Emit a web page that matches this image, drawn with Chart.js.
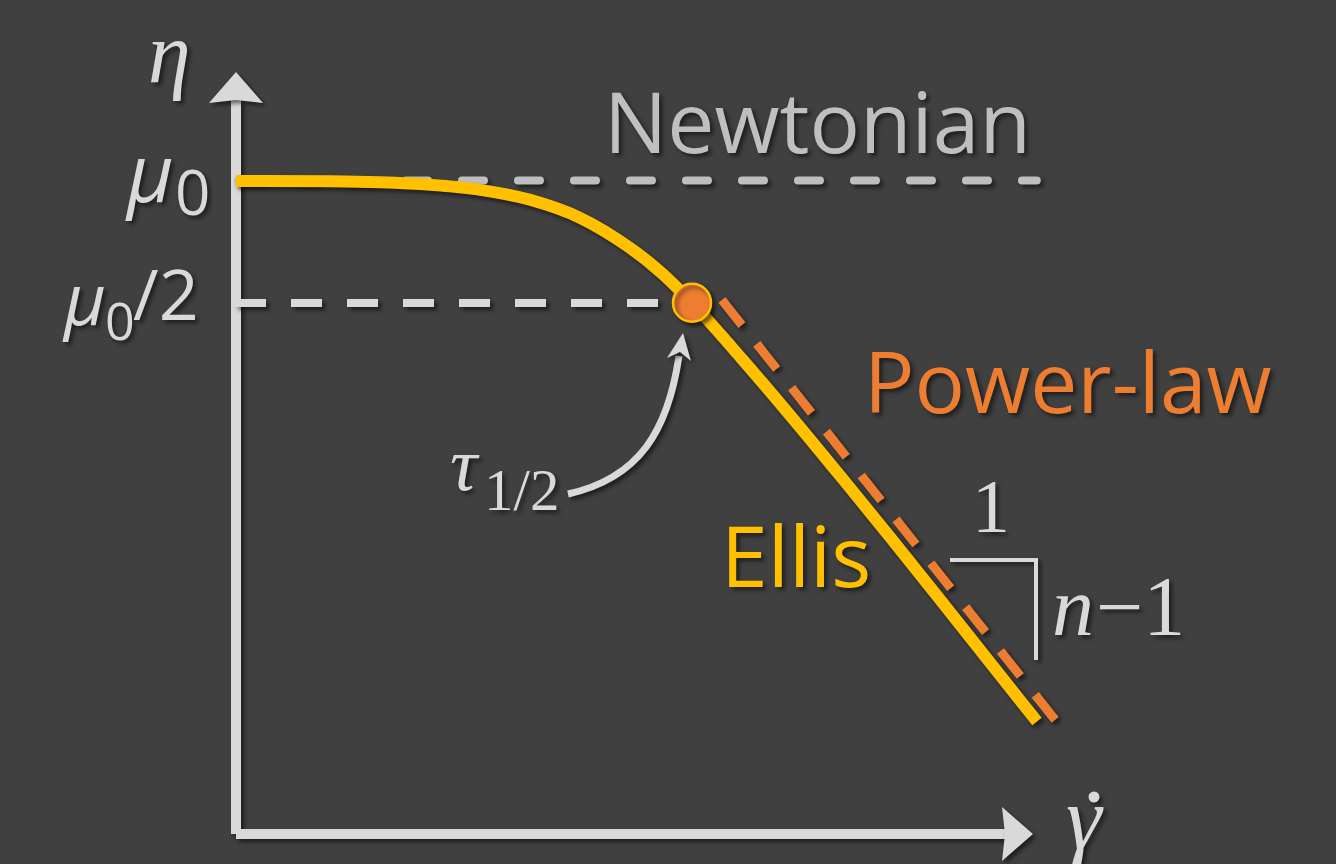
<!DOCTYPE html>
<html>
<head>
<meta charset="utf-8">
<script src="https://cdn.jsdelivr.net/npm/chart.js@4/dist/chart.umd.min.js"></script>
<style>
  html, body { margin: 0; padding: 0; background: #404040; }
  #wrap { width: 1336px; height: 864px; }
</style>
</head>
<body>
<div id="wrap"><canvas id="chart" width="1336" height="864"></canvas></div>
<script>
// 数据 (读自原图, 轴范围 0..100)
const ellisX = [0, 11.75, 18.0, 24.25, 30.5, 36.75, 43.0, 49.25, 53.375, 57.0, 63.25, 69.5, 75.75, 82.0, 88.25, 94.5, 100.125];
const ellisY = [85.92, 85.88, 85.75, 85.42, 84.76, 83.45, 81.08, 77.13, 73.66, 69.87, 62.5, 54.8, 46.84, 38.75, 30.53, 22.24, 14.8];
const powerX = [60.75, 102.6];
const powerY = [70.26, 14.74];
const newtonX = [0.25, 100.1];
const newtonY = [86, 86];
const halfX = [-0.125, 53];
const halfY = [69.87, 69.87];
const tauX = [57.0];
const tauY = [69.9];
const yTicks = [86, 69.87];   // μ0, μ0/2

const colors = {
    bg: '#404040',
    yellow: '#ffc000',
    orange: '#ed7d31',
    light: '#d9d9d9',
    grey: '#bfbfbf'
};

function pts(xs, ys) {
    return xs.map((x, i) => ({ x: x, y: ys[i] }));
}

function setShadow(ctx) {
    ctx.shadowColor = 'rgba(0,0,0,0.55)';
    ctx.shadowBlur = 4;
    ctx.shadowOffsetX = 3;
    ctx.shadowOffsetY = 3;
}

// 阴影
const shadowPlugin = {
    id: 'shadow',
    beforeDatasetDraw(chart) {
        chart.ctx.save();
        setShadow(chart.ctx);
    },
    afterDatasetDraw(chart) {
        chart.ctx.restore();
    }
};

// 坐标轴箭头
const axesPlugin = {
    id: 'axes',
    beforeDatasetsDraw(chart) {
        const ctx = chart.ctx;
        const xs = chart.scales.x, ys = chart.scales.y;
        const x0 = xs.getPixelForValue(0), y0 = ys.getPixelForValue(0);
        const yTop = ys.getPixelForValue(100) - 2;
        const xEnd = xs.getPixelForValue(100) - 3;
        ctx.save();
        setShadow(ctx);
        ctx.fillStyle = colors.light;
        // y 轴
        ctx.fillRect(x0 - 5, yTop + 28, 10, y0 - yTop - 28);
        ctx.beginPath();
        ctx.moveTo(x0, yTop);
        ctx.lineTo(x0 + 27, yTop + 31);
        ctx.lineTo(x0, yTop + 28);
        ctx.lineTo(x0 - 27, yTop + 31);
        ctx.closePath();
        ctx.fill();
        // x 轴
        ctx.fillRect(x0, y0 - 5, xEnd - x0 - 28, 10);
        ctx.beginPath();
        ctx.moveTo(xEnd, y0);
        ctx.lineTo(xEnd - 31, y0 - 27);
        ctx.lineTo(xEnd - 28, y0);
        ctx.lineTo(xEnd - 31, y0 + 27);
        ctx.closePath();
        ctx.fill();
        ctx.restore();
    }
};

// 文字标注
const labelPlugin = {
    id: 'labels',
    afterDatasetsDraw(chart) {
        const ctx = chart.ctx;
        const ys = chart.scales.y;
        const serif = '"Liberation Serif", "DejaVu Serif", serif';
        const sans = '"Open Sans", "Noto Sans", sans-serif';
        ctx.save();
        setShadow(ctx);
        ctx.textBaseline = 'alphabetic';
        ctx.textAlign = 'left';

        ctx.fillStyle = colors.grey;
        ctx.font = '84px ' + sans;
        ctx.fillText('Newtonian', 604, 153);

        ctx.fillStyle = colors.orange;
        ctx.fillText('Power-law', 864, 413);

        ctx.fillStyle = colors.yellow;
        ctx.fillText('Ellis', 721, 587);

        // 坐标轴符号
        ctx.fillStyle = colors.light;
        ctx.font = 'italic 86px ' + serif;
        ctx.fillText('η', 148, 82);
        ctx.font = 'italic 90px ' + serif;
        ctx.fillText('γ', 1066, 849);
        ctx.beginPath();
        ctx.arc(1094, 797, 5.5, 0, Math.PI * 2);
        ctx.fill();

        // y 刻度: μ0, μ0/2
        const p0 = ys.getPixelForValue(yTicks[0]);
        const p1 = ys.getPixelForValue(yTicks[1]);
        ctx.font = 'italic 80px ' + sans;
        ctx.fillText('μ', 127, p0 + 22);
        ctx.font = '62px ' + sans;
        ctx.fillText('0', 175, p0 + 35);

        ctx.font = 'italic 72px ' + sans;
        ctx.fillText('μ', 64, p1 + 22);
        ctx.font = '52px ' + sans;
        ctx.fillText('0', 105, p1 + 37);
        ctx.font = '70px ' + sans;
        ctx.fillText('/2', 133, p1 + 17);

        // τ1/2
        ctx.font = 'italic 76px ' + serif;
        ctx.fillText('τ', 450, 490);
        ctx.font = '59px ' + serif;
        ctx.fillText('1/2', 484, 510);

        // 斜率三角
        ctx.font = '76px ' + serif;
        ctx.textAlign = 'center';
        ctx.fillText('1', 991, 532);
        ctx.textAlign = 'left';
        ctx.font = 'italic 84px ' + serif;
        ctx.fillText('n', 1052, 635);
        const nw = ctx.measureText('n').width;
        ctx.font = '84px ' + serif;
        ctx.fillText('−1', 1052 + nw + 2, 635);

        ctx.strokeStyle = colors.light;
        ctx.lineWidth = 4;
        ctx.beginPath();
        ctx.moveTo(950, 560);
        ctx.lineTo(1036, 560);
        ctx.lineTo(1036, 660);
        ctx.stroke();

        // τ 箭头
        ctx.lineWidth = 7;
        ctx.lineCap = 'butt';
        ctx.beginPath();
        ctx.moveTo(568, 494);
        ctx.bezierCurveTo(640, 478, 668, 430, 679, 356);
        ctx.stroke();
        ctx.beginPath();
        ctx.moveTo(683, 333);
        ctx.lineTo(691, 361);
        ctx.lineTo(680, 352);
        ctx.lineTo(667, 358);
        ctx.closePath();
        ctx.fill();
        ctx.restore();
    }
};

document.addEventListener('DOMContentLoaded', function() {
    const ctx = document.getElementById('chart').getContext('2d');
    new Chart(ctx, {
        type: 'line',
        data: {
            datasets: [
                {
                    label: 'τ1/2',
                    data: pts(tauX, tauY),
                    showLine: false,
                    pointRadius: 19,
                    pointBackgroundColor: colors.orange,
                    pointBorderColor: colors.yellow,
                    pointBorderWidth: 2.5,
                    order: 0,
                    clip: false
                },
                {
                    label: 'Power-law',
                    data: pts(powerX, powerY),
                    borderColor: colors.orange,
                    borderWidth: 9,
                    borderDash: [32, 24],
                    borderCapStyle: 'butt',
                    pointRadius: 0,
                    order: 1,
                    clip: false
                },
                {
                    label: 'Ellis',
                    data: pts(ellisX, ellisY),
                    borderColor: colors.yellow,
                    borderWidth: 12,
                    cubicInterpolationMode: 'monotone',
                    borderCapStyle: 'butt',
                    pointRadius: 0,
                    order: 2,
                    clip: false
                },
                {
                    label: 'Newtonian',
                    data: pts(newtonX, newtonY),
                    borderColor: colors.grey,
                    borderWidth: 8,
                    borderDash: [22, 34],
                    borderCapStyle: 'round',
                    pointRadius: 0,
                    order: 3,
                    clip: false
                },
                {
                    label: 'μ0/2',
                    data: pts(halfX, halfY),
                    borderColor: colors.light,
                    borderWidth: 8,
                    borderDash: [31, 25],
                    borderCapStyle: 'butt',
                    pointRadius: 0,
                    order: 4,
                    clip: false
                }
            ]
        },
        options: {
            responsive: false,
            devicePixelRatio: 1,
            animation: false,
            layout: { padding: { left: 236, right: 300, top: 74, bottom: 30 } },
            plugins: { legend: { display: false }, tooltip: { enabled: false } },
            scales: {
                x: { type: 'linear', min: 0, max: 100, display: false },
                y: { type: 'linear', min: 0, max: 100, display: false }
            }
        },
        plugins: [shadowPlugin, axesPlugin, labelPlugin]
    });
});
</script>
</body>
</html>
